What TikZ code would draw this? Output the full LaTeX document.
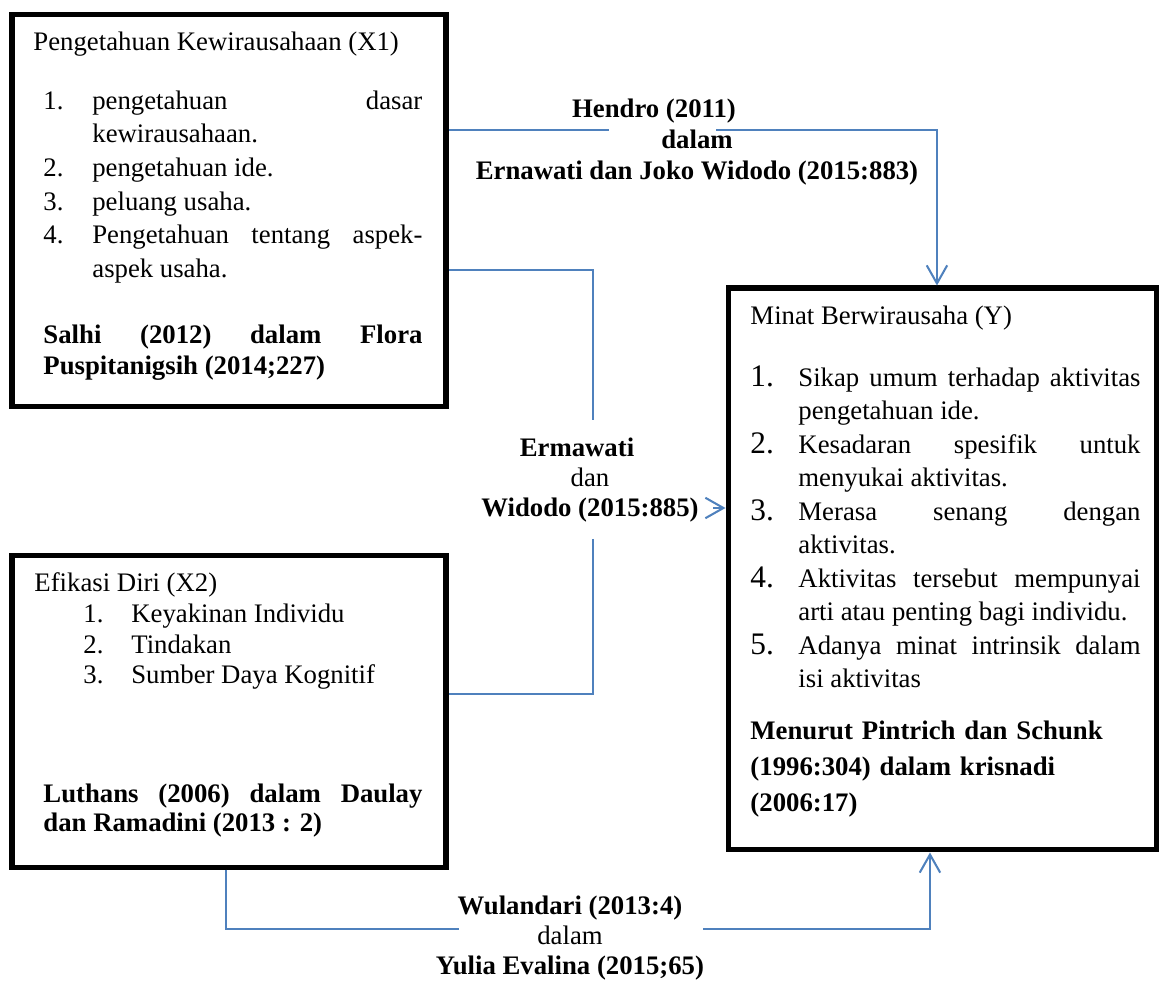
\documentclass[tikz,border=0pt]{standalone}
\usepackage{fontspec}
\setmainfont{Liberation Serif}
\usepackage{tikz}
\usetikzlibrary{arrows.meta}
\definecolor{birugaris}{RGB}{79,129,189}

% satu butir daftar dengan indentasi gantung
\newcommand{\butir}[3]{\par\hangindent=#1\hangafter=1\noindent\makebox[#1][l]{#2}#3\par}
\newcommand{\huruf}[1]{\fontsize{11.1pt}{#1}\selectfont\hyphenpenalty=10000 }
\newcommand{\nomor}[1]{{\fontsize{13pt}{13pt}\selectfont #1}}

\begin{document}
\begin{tikzpicture}[x=0.415pt, y=-0.415pt,
        kotak/.style={draw, line width=2.1pt, inner sep=0pt},
        teks/.style={inner sep=0pt, align=justify, anchor=base west},
        rujukan/.style={inner sep=0pt, align=center},
        garis/.style={draw=birugaris, line width=0.85pt},
        panah/.style={garis, -{Straight Barb[length=7.5pt, width=8.5pt]}}]
    \useasboundingbox (0,0) rectangle (1161,983);

    % kotak variabel
    \node[kotak, minimum width=180.1pt, minimum height=162.3pt] (x1box) at (229,210.5) {};
    \node[kotak, minimum width=180.1pt, minimum height=129.1pt] (x2box) at (229,711.5) {};
    \node[kotak, minimum width=178pt, minimum height=233.2pt] (ybox) at (942.5,569) {};

    % isi X1
    \node[teks, text width=161.4pt, font=\huruf{13.95pt}] (x1isi) at (33,51) {%
        Pengetahuan Kewirausahaan (X1)\par
        \vspace{10.2pt}\leftskip=4.15pt
        \butir{20.3pt}{1.}{pengetahuan \hfill dasar\\kewirausahaan.}
        \butir{20.3pt}{2.}{pengetahuan ide.}
        \butir{20.3pt}{3.}{peluang usaha.}
        \butir{20.3pt}{4.}{Pengetahuan \hfill tentang \hfill aspek-\\aspek usaha.}};
    \node[teks, text width=157.3pt, font=\bfseries\huruf{12.5pt}] (x1sumber) at (43,344)
        {Salhi \hfill (2012) \hfill dalam \hfill Flora\\Puspitanigsih (2014;227)};

    % isi X2
    \node[teks, text width=161.4pt, font=\huruf{12.7pt}] (x2isi) at (34,592) {%
        Efikasi Diri (X2)\par
        \leftskip=20.3pt
        \butir{19.9pt}{1.}{Keyakinan Individu}
        \butir{19.9pt}{2.}{Tindakan}
        \butir{19.9pt}{3.}{Sumber Daya Kognitif}};
    \node[teks, text width=157.3pt, font=\bfseries\huruf{12pt}] (x2sumber) at (43,803)
        {Luthans \hfill (2006) \hfill dalam \hfill Daulay\\dan Ramadini (2013 : 2)};

    % isi Y
    \node[teks, text width=161.9pt, font=\huruf{13.6pt}] (yisi) at (750,325) {%
        Minat Berwirausaha (Y)\par
        \vspace{12.1pt}
        \butir{19.9pt}{\nomor{1.}}{Sikap \hfill umum \hfill terhadap \hfill aktivitas\\pengetahuan ide.}
        \vspace{0.6pt}
        \butir{19.9pt}{\nomor{2.}}{Kesadaran \hfill spesifik \hfill untuk\\menyukai aktivitas.}
        \vspace{0.6pt}
        \butir{19.9pt}{\nomor{3.}}{Merasa \hfill senang \hfill dengan\\aktivitas.}
        \vspace{0.6pt}
        \butir{19.9pt}{\nomor{4.}}{Aktivitas \hfill tersebut \hfill mempunyai\\arti atau penting bagi individu.}
        \vspace{0.6pt}
        \butir{19.9pt}{\nomor{5.}}{Adanya \hfill minat \hfill intrinsik \hfill dalam\\isi aktivitas}};
    \node[teks, text width=161.9pt, align=left, font=\bfseries\huruf{14.9pt}] (ysumber) at (750,740)
        {Menurut Pintrich dan Schunk\\(1996:304) dalam krisnadi\\(2006:17)};

    % rujukan pada garis
    \node[rujukan, font=\bfseries\huruf{12.9pt}] (ref1) at (697,142)
        {Hendro (2011)\hspace*{35.7pt}\\dalam\hspace*{38.2pt}\\Ernawati dan Joko Widodo (2015:883)};
    \node[rujukan, font=\huruf{12.5pt}] (ref2) at (590,480)
        {\textbf{Ermawati}\hspace*{10.8pt}\\dan\hspace*{16.6pt}\\\textbf{Widodo (2015:885)}};
    \node[rujukan, font=\huruf{12.5pt}] (ref3) at (570,938)
        {\textbf{Wulandari (2013:4)}\\dalam\\\textbf{Yulia Evalina (2015;65)}};

    % titik belok garis
    \coordinate (h1) at (609,130);
    \coordinate (h2) at (716,130);
    \coordinate (e1) at (593,270);
    \coordinate (e2) at (593,420);
    \coordinate (e3) at (593,539);
    \coordinate (e4) at (593,694);
    \coordinate (e5) at (713,508);
    \coordinate (w1) at (226,929);
    \coordinate (w2) at (459,929);
    \coordinate (w3) at (703,929);

    % X1 -> Y
    \draw[garis] (x1box.east |- h1) -- (h1);
    \draw[panah] (h2) -| ([xshift=-2.3pt]ybox.north);
    % X1 + X2 -> Y
    \draw[garis] (x1box.east |- e1) -- (e1) -- (e2);
    \draw[garis] (e3) -- (e4) -- (x2box.east |- e4);
    \draw[panah] (e5) -- (ybox.west |- e5);
    % X2 -> Y
    \draw[garis] (x2box.south -| w1) -- (w1) -- (w2);
    \draw[panah] (w3) -| ([xshift=-5.2pt]ybox.south);
\end{tikzpicture}
\end{document}
